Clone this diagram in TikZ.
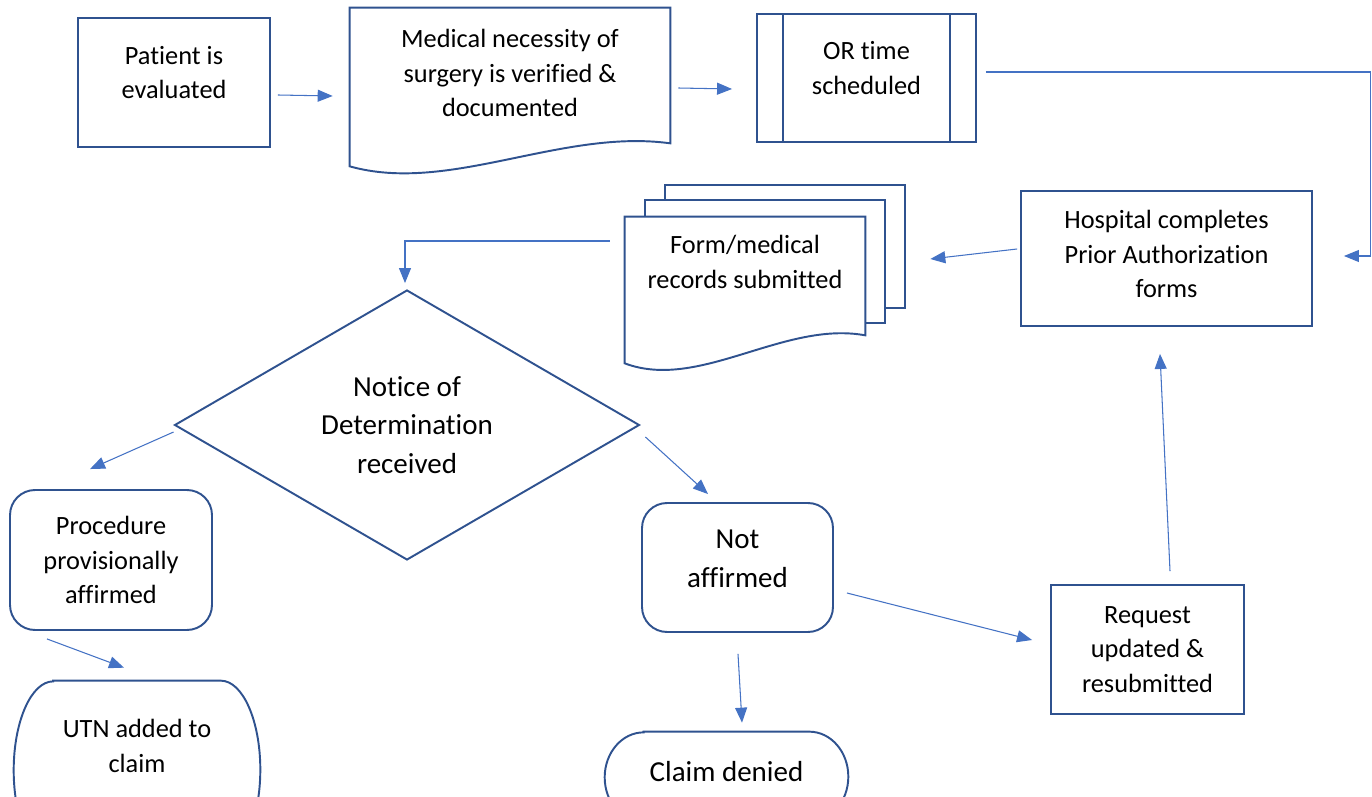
\documentclass[tikz,border=0pt]{standalone}
\usepackage{fontspec}
\setmainfont{Carlito}[Ligatures=NoCommon]
\usetikzlibrary{shapes.geometric, arrows.meta, calc, backgrounds}
\definecolor{shape_blue}{RGB}{47, 82, 143}
\definecolor{arrow_blue}{RGB}{68, 114, 196}

\newcommand{\boxfont}{\fontsize{15pt}{19.6pt}\selectfont}
\newcommand{\bigfont}{\fontsize{16.5pt}{22pt}\selectfont}

% document outline with a wavy bottom: node, right drop, left drop
\newcommand{\docoutline}[3]{%
  \draw[docline] (#1.north west) -- (#1.north east) -- ($(#1.south east)+(0,#2)$)
    .. controls ($(#1.south east)!0.34!(#1.south west)+(0,#2-15)$)
    and ($(#1.south east)!0.69!(#1.south west)+(0,#3+28)$)
    .. ($(#1.south west)+(0,#3)$) -- cycle;}

% terminator outline with elliptic ends: node, cap width (units), x radius, y radius
\newcommand{\termoutline}[4]{%
  \draw[docline] ($(#1.north west)+(#2,0)$) -- ($(#1.north east)+(-#2,0)$)
    arc[start angle=90, end angle=-90, x radius=#3, y radius=#4]
    -- ($(#1.south west)+(#2,0)$)
    arc[start angle=270, end angle=90, x radius=#3, y radius=#4] -- cycle;}

\begin{document}
\begin{tikzpicture}[
    x=0.02cm, y=-0.02cm,
    outline/.style={
        draw=shape_blue,
        line width=1.1pt
    },
    docline/.style={
        outline,
        fill=white
    },
    box/.style={
        rectangle,
        outline,
        fill=white,
        align=center,
        font=\boxfont,
        inner sep=2pt
    },
    roundbox/.style={
        box,
        rounded corners=0.5cm
    },
    terminal/.style={
        rectangle,
        align=center,
        font=\boxfont,
        inner sep=0pt
    },
    decision/.style={
        diamond,
        aspect=1.72,
        outline,
        fill=white,
        inner sep=0pt,
        align=center,
        font=\bigfont
    },
    doc/.style={
        rectangle,
        align=center,
        font=\boxfont
    },
    arrow/.style={
        -{Triangle[length=0.3cm, width=0.24cm]},
        draw=arrow_blue,
        line width=0.6pt
    }
]
\useasboundingbox (0,0) rectangle (1372,797);
\clip (0,0) rectangle (1372,797);

% Top row
\node[box, text depth=0.4cm, minimum width=3.84cm, minimum height=2.58cm] (patient) at (174,82.5) {Patient is\\evaluated};
\node[doc, minimum width=6.4cm, minimum height=2.6cm] (medical) at (510,73) {Medical necessity of\\surgery is verified \&\\documented};
\node[box, text depth=0.4cm, minimum width=4.38cm, minimum height=2.56cm] (ortime) at (866.5,78) {OR time\\scheduled};
\draw[outline] ($(ortime.north west)+(27,0)$) -- ($(ortime.south west)+(27,0)$);
\draw[outline] ($(ortime.north east)+(-27,0)$) -- ($(ortime.south east)+(-27,0)$);

% Prior authorization
\node[box, text depth=0.18cm, minimum width=5.82cm, minimum height=2.7cm] (hospital) at (1166.5,258.5) {Hospital completes\\Prior Authorization\\forms};
\node[doc, minimum width=4.8cm, minimum height=1.8cm] (form) at (745,262) {Form/medical\\records submitted};

% Decision and outcomes
\node[decision, minimum width=9.3cm, minimum height=5.4cm] (notice) at (407,425) {Notice of\\Determination\\received};
\node[roundbox, minimum width=4.04cm, minimum height=2.8cm] (procedure) at (111,560) {Procedure\\provisionally\\affirmed};
\node[terminal, text depth=0.96cm, minimum width=4.92cm, minimum height=3.56cm] (utn) at (137,770) {UTN added to\\claim};
\node[roundbox, font=\bigfont, text depth=0.34cm, minimum width=3.82cm, minimum height=2.58cm] (notaffirmed) at (737.5,567.5) {Not\\affirmed};
\node[terminal, font=\bigfont, text depth=0.24cm, minimum width=4.86cm, minimum height=1.8cm] (denied) at (726.5,777) {Claim denied};
\node[box, minimum width=3.86cm, minimum height=2.58cm] (request) at (1147.5,649.5) {Request\\updated \&\\resubmitted};

% Outlines behind the texts
\begin{scope}[on background layer]
  \docoutline{medical}{5}{28}
  \draw[docline] ($(form.north west)+(40,-32)$) rectangle ($(form.south east)+(40,1)$);
  \draw[docline] ($(form.north west)+(20,-17)$) rectangle ($(form.south east)+(20,16)$);
  \docoutline{form}{28}{56}
  \termoutline{utn}{39.5}{0.79cm}{1.78cm}
  \termoutline{denied}{39}{0.78cm}{0.9cm}
\end{scope}

% Arrows
\draw[arrow] ($(patient.east)+(7,12.5)$) -- ($(medical.west)+(-17,23)$);
\draw[arrow] ($(medical.east)+(8,15)$) -- ($(ortime.west)+(-24,11)$);
\draw[arrow] ($(ortime.east)+(9,-6)$) -- ++(385,0) |- ($(hospital.east)+(31,-2.5)$);
\draw[arrow] ($(hospital.west)+(-3,-9.5)$) -- ($(form.east)+(65,-3)$);
\draw[arrow] ($(form.west)+(-15,-21)$) -| ($(notice.north)+(-2,-6)$);
\draw[arrow] ($(notice.west)+(0,7)$) -- ($(procedure.north)+(-21,-20)$);
\draw[arrow] ($(notice.east)+(5,12)$) -- ($(notaffirmed.north)+(-29.5,-8)$);
\draw[arrow] ($(procedure.south)+(-64,8)$) -- ($(utn.north)+(-13,-13)$);
\draw[arrow] ($(notaffirmed.south)+(0.5,21)$) -- ($(denied.north)+(15.5,-9)$);
\draw[arrow] ($(notaffirmed.east)+(13,25.5)$) -- ($(request.west)+(-18,-9.5)$);
\draw[arrow] ($(request.north)+(22.5,-13)$) -- ($(hospital.south)+(-6.5,27)$);

\end{tikzpicture}
\end{document}
